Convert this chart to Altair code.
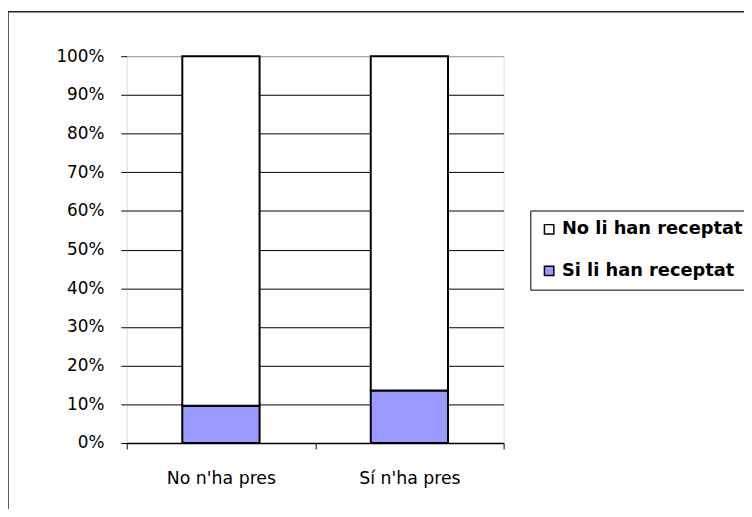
import altair as alt
import pandas as pd

categories = ["No n'ha pres", "Sí n'ha pres"]
series = ["No li han receptat", "Si li han receptat"]
si_values = [0.096, 0.136]
no_values = [0.904, 0.864]
colors = ["#ffffff", "#9999ff"]

rows = []
for c, s, n in zip(categories, si_values, no_values):
    rows.append({"cat": c, "serie": series[1], "val": s, "ord": 0})
    rows.append({"cat": c, "serie": series[0], "val": n, "ord": 1})
df = pd.DataFrame(rows)

FONT = "DejaVu Sans"

frame = alt.Chart(pd.DataFrame({"a": [0]})).mark_rect(
    fill="transparent", stroke="#222222", strokeWidth=1.5
).encode(x=alt.value(-120), x2=alt.value(700), y=alt.value(-45), y2=alt.value(600))

bars = alt.Chart(df).mark_bar(stroke="black", strokeWidth=2, width=alt.RelativeBandSize(0.41)).encode(
    x=alt.X("cat:N", sort=categories, title=None,
            scale=alt.Scale(paddingInner=0, paddingOuter=0),
            axis=alt.Axis(labelAngle=0, tickBand="extent", domainColor="black", tickColor="black",
                          tickSize=6, labelPadding=21, labelFontSize=17.5, labelColor="black",
                          labelFont=FONT, domainWidth=1.5, grid=False)),
    y=alt.Y("val:Q", stack="zero", title=None,
            scale=alt.Scale(domain=[0, 1], nice=False),
            axis=alt.Axis(values=[i / 10 for i in range(11)], format=".0%", domain=False,
                          tickColor="black", tickSize=6, labelPadding=17, labelFontSize=17,
                          labelColor="black", labelFont=FONT, grid=True,
                          gridColor=alt.condition("datum.value >= 1", alt.value("#999999"), alt.value("black")),
                          gridWidth=1)),
    color=alt.Color("serie:N", scale=alt.Scale(domain=series, range=colors), title=None,
                    legend=alt.Legend(orient="none", legendX=408, legendY=156,
                                      symbolType="square", symbolSize=90, symbolStrokeColor="black",
                                      symbolStrokeWidth=1.5, labelFontSize=18, labelFontWeight="bold",
                                      labelFont=FONT, labelColor="black", rowPadding=24,
                                      strokeColor="black", fillColor="white", padding=10,
                                      labelLimit=300, symbolOpacity=1)),
    order=alt.Order("ord:Q"),
)

chart = alt.layer(frame, bars).properties(
    width=381, height=391,
    autosize=alt.AutoSizeParams(type="none"),
    padding={"left": 120, "top": 46, "right": 243, "bottom": 64},
).configure_view(stroke="#999999", strokeWidth=1.5).configure(background="white")

chart.save("out.html", embed_options={"renderer": "svg", "actions": False})
